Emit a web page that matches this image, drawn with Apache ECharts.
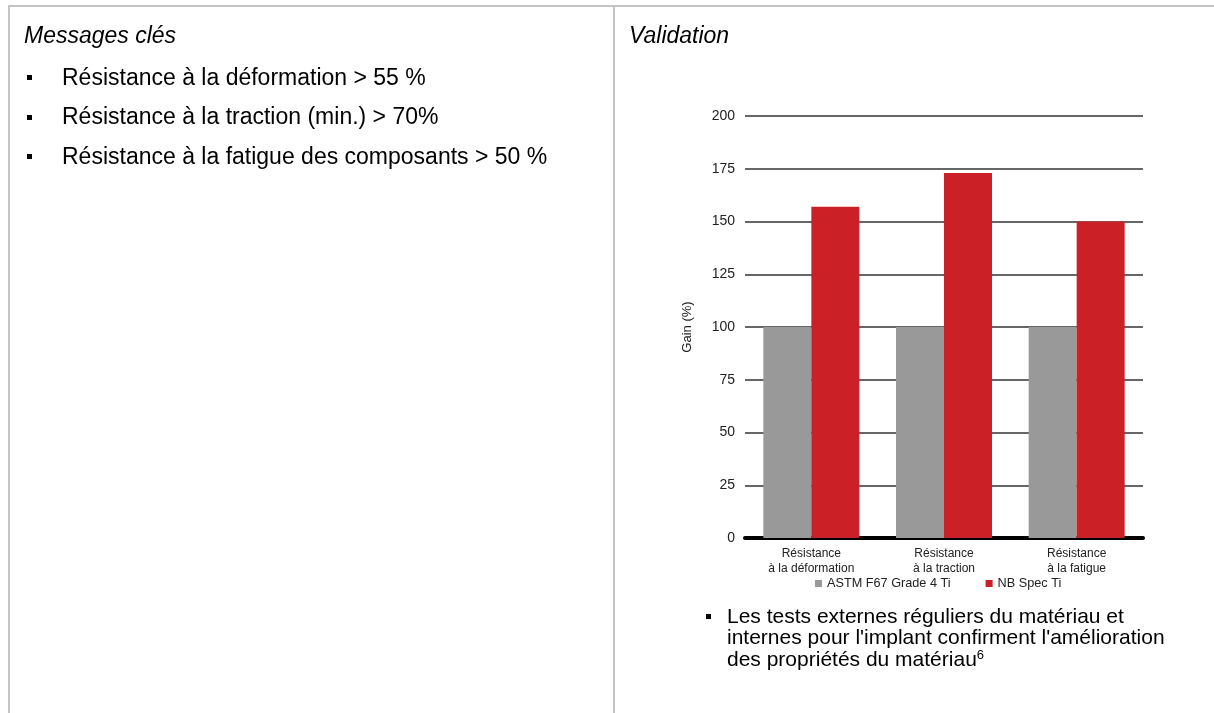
<!DOCTYPE html>
<html>
<head>
<meta charset="utf-8">
<script src="https://cdn.jsdelivr.net/npm/echarts@6/dist/echarts.min.js"></script>
<style>
html,body{margin:0;padding:0;background:#fff;}
#c{width:1214px;height:713px;}
</style>
</head>
<body>
<div id="c"></div>
<script>
// ---- data ----
const categories = ['Résistance\nà la déformation', 'Résistance\nà la traction', 'Résistance\nà la fatigue'];
const seriesNames = ['ASTM F67 Grade 4 Ti', 'NB Spec Ti'];
const astmValues = [100, 100, 100];
const nbSpecValues = [157, 173, 150];
const yMin = 0, yMax = 200, yStep = 25;
const yAxisName = 'Gain (%)';
const leftTitle = 'Messages clés';
const leftBullets = [
  'Résistance à la déformation > 55 %',
  'Résistance à la traction (min.) > 70%',
  'Résistance à la fatigue des composants > 50 %'
];
const rightTitle = 'Validation';
const noteLines = [
  'Les tests externes réguliers du matériau et',
  "internes pour l'implant confirment l'amélioration",
  'des propriétés du matériau'
];
const noteSup = '6';

// ---- styles ----
const FONT = '"Liberation Sans", Arial, Helvetica, sans-serif';
const GREY = '#999999', RED = '#cc2027', BORDER = '#c4c4c4';

const chart = echarts.init(document.getElementById('c'), null, {renderer: 'canvas'});

const graphics = [
  {type: 'line', shape: {x1: 8, y1: 6, x2: 1214, y2: 6}, style: {stroke: BORDER, lineWidth: 2}, silent: true},
  {type: 'line', shape: {x1: 9, y1: 6, x2: 9, y2: 713}, style: {stroke: BORDER, lineWidth: 2}, silent: true},
  {type: 'line', shape: {x1: 614, y1: 6, x2: 614, y2: 713}, style: {stroke: BORDER, lineWidth: 2}, silent: true},
  {type: 'text', left: 24, top: 25, style: {text: leftTitle, font: 'italic 23px ' + FONT, fill: '#000'}},
  {type: 'text', left: 629, top: 25, style: {text: rightTitle, font: 'italic 23px ' + FONT, fill: '#000'}}
];
leftBullets.forEach((t, i) => {
  const y = 67 + i * 39.5;
  graphics.push({type: 'rect', shape: {x: 27, y: Math.round(y) + 8, width: 5, height: 5}, style: {fill: '#000'}, silent: true});
  graphics.push({type: 'text', left: 62, top: y, style: {text: t, font: '23px ' + FONT, fill: '#000'}});
});
graphics.push({type: 'rect', shape: {x: 706, y: 614, width: 5, height: 5}, style: {fill: '#000'}, silent: true});
graphics.push({
  type: 'text', left: 727, top: 606,
  style: {
    text: noteLines.slice(0, 2).join('\n') + '\n' + noteLines[2] + '{sup|' + noteSup + '}',
    font: '21px ' + FONT, fill: '#000', lineHeight: 21.5,
    rich: {sup: {fontSize: 13, fontFamily: FONT, verticalAlign: 'top', lineHeight: 12, fill: '#000'}}
  }
});

chart.setOption({
  animation: false,
  backgroundColor: '#fff',
  textStyle: {fontFamily: FONT},
  graphic: graphics,
  grid: {left: 745, right: 71, top: 116, bottom: 175, containLabel: false},
  legend: {
    data: seriesNames, left: 815, top: 577, icon: 'rect', itemWidth: 7, itemHeight: 7, itemGap: 35,
    textStyle: {fontSize: 12.7, color: '#222', fontFamily: FONT}, padding: 0
  },
  xAxis: {
    type: 'category', data: categories,
    axisLine: {show: true, lineStyle: {color: '#000', width: 4}},
    axisTick: {show: false},
    axisLabel: {color: '#222', fontSize: 12, lineHeight: 15, margin: 8, interval: 0, fontFamily: FONT}
  },
  yAxis: {
    type: 'value', min: yMin, max: yMax, interval: yStep,
    name: yAxisName, nameLocation: 'middle', nameRotate: 90, nameGap: 51,
    nameTextStyle: {fontSize: 13, color: '#222', fontFamily: FONT},
    axisLine: {show: false}, axisTick: {show: false},
    axisLabel: {color: '#222', fontSize: 14, margin: 10, fontFamily: FONT},
    splitLine: {show: true, lineStyle: {color: '#333', width: 1.5}}
  },
  series: [
    {name: seriesNames[0], type: 'bar', data: astmValues, barWidth: 48, barGap: '0%', itemStyle: {color: GREY}},
    {name: seriesNames[1], type: 'bar', data: nbSpecValues, barWidth: 48, barGap: '0%', itemStyle: {color: RED}}
  ]
});
</script>
</body>
</html>
